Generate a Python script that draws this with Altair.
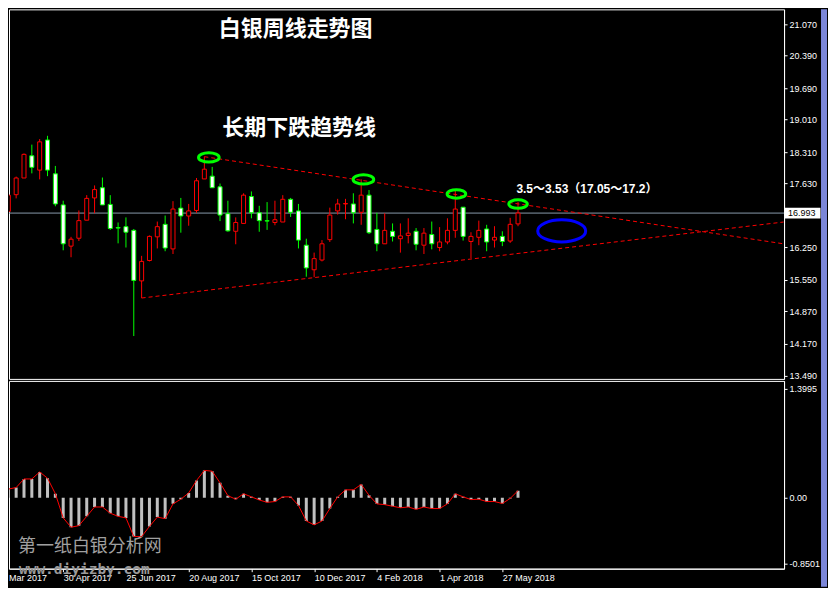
import altair as alt
import pandas as pd
import numpy as np

# ------------------------------------------------------------------ data
start_date = "2017-03-12"          # first weekly candle (partly cut on the left)
opens = [17.03, 17.39, 17.75, 18.23, 17.92, 18.57, 17.84, 17.17, 16.28, 16.45,
         16.84, 17.32, 17.54, 17.18, 16.68, 16.70, 16.62, 15.53, 15.97, 16.48,
         16.75, 16.22, 17.10, 16.93, 17.05, 17.73, 17.79, 17.56, 16.98, 16.60,
         16.77, 17.35, 17.00, 16.83, 16.79, 16.80, 17.29, 17.04, 16.30, 15.77,
         15.98, 16.42, 17.04, 17.19, 17.19, 17.01, 17.38, 16.64, 16.33, 16.60,
         16.44, 16.51, 16.60, 16.30, 16.53, 16.25, 16.37, 16.62, 17.12, 16.38,
         16.47, 16.65, 16.41, 16.49, 16.39, 16.76]
highs = [17.42, 17.78, 18.28, 18.47, 18.59, 18.66, 18.01, 17.26, 16.48, 17.05,
         17.38, 17.59, 17.76, 17.38, 16.79, 16.90, 16.65, 16.07, 16.51, 16.81,
         16.94, 17.25, 17.32, 17.19, 17.75, 18.21, 17.99, 17.63, 17.26, 16.90,
         17.42, 17.46, 17.15, 17.23, 17.26, 17.38, 17.32, 17.19, 16.44, 16.14,
         16.41, 17.11, 17.30, 17.30, 17.42, 17.72, 17.49, 17.00, 16.99, 16.77,
         16.77, 16.88, 16.67, 16.67, 16.81, 16.69, 16.88, 17.47, 17.12, 16.58,
         16.83, 16.74, 16.71, 16.60, 16.89, 17.23]
lows = [16.98, 17.31, 17.75, 17.85, 17.72, 17.79, 17.14, 16.19, 16.04, 16.39,
        16.84, 16.99, 17.17, 16.63, 16.34, 16.25, 14.34, 15.16, 15.95, 16.23,
        16.17, 16.11, 16.57, 16.72, 17.00, 17.73, 17.54, 16.82, 16.59, 16.32,
        16.77, 16.88, 16.59, 16.63, 16.73, 16.80, 16.91, 16.23, 15.62, 15.61,
        15.95, 16.37, 16.96, 16.86, 16.77, 16.74, 16.54, 16.17, 16.33, 16.38,
        16.14, 16.34, 16.19, 16.11, 16.21, 16.17, 16.32, 16.46, 16.40, 16.02,
        16.30, 16.17, 16.25, 16.28, 16.35, 16.71]
closes = [17.38, 17.75, 18.26, 17.98, 18.53, 17.92, 17.19, 16.33, 16.43, 16.83,
          17.31, 17.50, 17.17, 16.66, 16.67, 16.58, 15.54, 15.95, 16.49, 16.70,
          16.24, 17.08, 16.93, 17.04, 17.69, 17.94, 17.54, 16.95, 16.61, 16.79,
          17.38, 17.00, 16.83, 16.82, 16.85, 17.29, 17.01, 16.41, 15.81, 16.01,
          16.33, 16.95, 17.19, 17.20, 17.00, 17.38, 16.57, 16.33, 16.62, 16.49,
          16.50, 16.56, 16.32, 16.56, 16.33, 16.37, 16.62, 17.08, 16.49, 16.49,
          16.62, 16.37, 16.47, 16.38, 16.75, 16.993]
macd = [0.11, 0.13, 0.24, 0.24, 0.33, 0.25, 0.05, -0.26, -0.38, -0.36,
        -0.24, -0.12, -0.12, -0.20, -0.24, -0.26, -0.50, -0.50, -0.37, -0.25,
        -0.27, -0.08, -0.02, 0.06, 0.22, 0.35, 0.34, 0.19, 0.025, -0.02,
        0.05, 0.01, -0.03, -0.06, -0.05, 0.01, 0.01, -0.10, -0.30, -0.35,
        -0.30, -0.14, 0.01, 0.10, 0.10, 0.17, 0.03, -0.08, -0.09, -0.11,
        -0.13, -0.12, -0.15, -0.12, -0.14, -0.14, -0.08, 0.05, 0.01, -0.025,
        -0.02, -0.05, -0.05, -0.075, -0.01, 0.09]

price_ticks = [21.07, 20.39, 19.69, 19.01, 18.31, 17.63, 16.25, 15.55, 14.87, 14.17, 13.49]
macd_ticks = [1.3995, 0.0, -0.8501]
date_ticks = ["2017-04-30", "2017-06-25", "2017-08-20", "2017-10-15",
              "2017-12-10", "2018-02-04", "2018-04-01", "2018-05-27"]
last_price = 16.993

trend_names = ["upper", "upper", "lower", "lower"]
trend_dates = ["2017-09-03", "2019-02-02", "2017-07-09", "2019-02-02"]
trend_prices = [18.21, 16.33, 15.16, 16.80]

ellipse_dates = ["2017-09-07", "2018-01-23", "2018-04-16", "2018-06-10", "2018-07-19"]
ellipse_prices = [18.195, 17.72, 17.406, 17.188, 16.609]
ellipse_colors = ["#00ff00", "#00ff00", "#00ff00", "#00ff00", "#0000ff"]
ellipse_widths = [20.6, 20.6, 18.6, 18.6, 48.0]

title_main = "白银周线走势图"
title_trend = "长期下跌趋势线"
note_text = "3.5～3.53（17.05～17.2）"
wm_cn = "第一纸白银分析网"
wm_url = "www.diyizby.com"

# ------------------------------------------------------------------ frames
dates = pd.date_range(start_date, periods=len(opens), freq="7D").strftime("%Y-%m-%d").tolist()
cd = pd.DataFrame({"date": dates, "open": opens, "high": highs, "low": lows, "close": closes})
up = cd["close"] > cd["open"]
cd["line"] = np.where(up, "#ff0000", "#00ff00")
cd["body"] = np.where(up, "#000000", "#ffffff")
md = pd.DataFrame({"date": dates, "macd": macd})
td = pd.DataFrame({"name": trend_names, "date": trend_dates, "price": trend_prices})
ed = pd.DataFrame({"date": ellipse_dates, "price": ellipse_prices, "col": ellipse_colors,
                   "sz": [w * w for w in ellipse_widths]})

W, H1, H2 = 776, 370, 188
FONT = "Liberation Sans"

xscale = alt.Scale(type="utc", nice=False, padding=0, domain=[
    alt.DateTime(year=2017, month=3, date=12, hours=14, minutes=42, utc=True),
    alt.DateTime(year=2019, month=2, date=2, hours=11, minutes=24, utc=True)])
pscale = alt.Scale(domain=[13.415, 21.389], nice=False, zero=False, padding=0)
mscale = alt.Scale(domain=[-0.9125, 1.5], nice=False, zero=False, padding=0)

paxis = alt.Axis(orient="right", values=price_ticks, format=".3f", title=None, grid=False,
                 tickSize=3, labelPadding=2, labelColor="white", tickColor="white",
                 domainColor="white", labelFont=FONT, labelFontSize=9)
px = alt.X("date:T", scale=xscale, axis=None)

def py(field):
    return alt.Y(field, scale=pscale, axis=paxis, title=None)

bid = alt.Chart(pd.DataFrame({"v": [last_price]})).mark_rule(
    color="#8899aa", strokeWidth=1).encode(y=py("v:Q"))

trends = alt.Chart(td).mark_line(color="#ff0000", strokeWidth=1, strokeDash=[4, 3],
                                 clip=True).encode(x=px, y=py("price:Q"), detail="name:N")

wicks = alt.Chart(cd).mark_rule(strokeWidth=1, clip=True).encode(
    x=px, y=py("low:Q"), y2="high:Q", color=alt.Color("line:N", scale=None))

bodies = alt.Chart(cd).mark_bar(size=4, strokeWidth=1, clip=True).encode(
    x=px, y=py("open:Q"), y2="close:Q",
    fill=alt.Fill("body:N", scale=None), stroke=alt.Stroke("line:N", scale=None))

ell_path = "M -1 0 A 1 0.46 0 1 0 1 0 A 1 0.46 0 1 0 -1 0 Z"
ellipses = alt.Chart(ed).mark_point(shape=ell_path, filled=False, strokeWidth=3,
                                    opacity=1).encode(
    x=px, y=py("price:Q"), color=alt.Color("col:N", scale=None),
    size=alt.Size("sz:Q", scale=None))

def label(text, x, y, size, color="white", font="Noto Sans CJK SC", weight="bold",
          align="center", baseline="middle"):
    return alt.Chart(pd.DataFrame({"t": [text]})).mark_text(
        font=font, fontSize=size, fontWeight=weight, color=color,
        align=align, baseline=baseline).encode(
        text="t:N", x=alt.value(x), y=alt.value(y))

t1 = label(title_main, 287, 19.5, 22)
t2 = label(title_trend, 290.5, 119, 22)
t3 = label(note_text, 508, 180, 12, font="Liberation Sans, Noto Sans CJK SC", align="left")

box_path = "M -1 -0.3 L 1 -0.3 L 1 0.3 L -1 0.3 Z"
pbox = alt.Chart(pd.DataFrame({"v": [last_price]})).mark_point(
    shape=box_path, filled=True, fill="white", strokeWidth=0, opacity=1, size=36 * 36).encode(
    x=alt.value(W + 18.5), y=py("v:Q"))
ptext = alt.Chart(pd.DataFrame({"v": [last_price], "t": [f"{last_price:.3f}"]})).mark_text(
    font=FONT, fontSize=9, color="black", align="left", baseline="middle").encode(
    x=alt.value(W + 4), y=py("v:Q"), text="t:N")

strip1 = alt.Chart(pd.DataFrame({"a": [0]})).mark_rect(color="#7b86d8").encode(
    x=alt.value(W + 37), x2=alt.value(W + 43), y=alt.value(0), y2=alt.value(H1 + 2))

price = alt.layer(bid, trends, wicks, bodies, ellipses, t1, t2, t3, pbox, ptext, strip1
                  ).properties(width=W, height=H1)

# ------------------------------------------------------------------ MACD panel
def dt(s):
    y, m, d = (int(p) for p in s.split("-"))
    return alt.DateTime(year=y, month=m, date=d, utc=True)

xaxis = alt.Axis(values=[dt(s) for s in date_ticks],
                 labelExpr="utcFormat(datum.value, '%-d %b %Y')",
                 labelAlign="left", labelBaseline="top", title=None, grid=False,
                 tickSize=3, labelPadding=2, labelFlush=False, labelOverlap=False,
                 labelColor="white", tickColor="white", domainColor="white",
                 labelFont=FONT, labelFontSize=9)
maxis = alt.Axis(orient="right", values=macd_ticks, title=None, grid=False,
                 labelExpr="datum.value == 0 ? '0.00' : (datum.value < 0 ? '-' + format(-datum.value, '.4f') : format(datum.value, '.4f'))",
                 tickSize=3, labelPadding=2, labelColor="white", tickColor="white",
                 domainColor="white", labelFont=FONT, labelFontSize=9)
mx = alt.X("date:T", scale=xscale, axis=xaxis)
my = alt.Y("macd:Q", scale=mscale, axis=maxis, title=None)

mbars = alt.Chart(md).mark_bar(size=3, color="#c0c0c0", clip=True).encode(
    x=mx, y=my, y2=alt.datum(0))
mline = alt.Chart(md).mark_line(color="#ff0000", strokeWidth=1, clip=True).encode(x=mx, y=my)

w1 = label(wm_cn, 9, 166.5, 18, color="#a0a0a0", weight="normal", align="left")
w2 = label(wm_url, 10, 189.5, 14.5, color="#9a9a9a", font="DejaVu Sans Mono",
           align="left")
mar = label("Mar 2017", 0, H2 + 5, 9, font=FONT, weight="normal", align="left",
            baseline="top")
strip2 = alt.Chart(pd.DataFrame({"a": [0]})).mark_rect(color="#7b86d8").encode(
    x=alt.value(W + 37), x2=alt.value(W + 43), y=alt.value(-2), y2=alt.value(H2 + 18))

macd_panel = alt.layer(mbars, mline, w1, w2, mar, strip2).properties(width=W, height=H2)

chart = alt.vconcat(price, macd_panel, spacing=2, bounds="flush").properties(
    padding=0, background="black"
).configure_view(stroke="white", strokeWidth=1)

chart.save("out.html", embed_options={"renderer": "svg", "actions": False})
